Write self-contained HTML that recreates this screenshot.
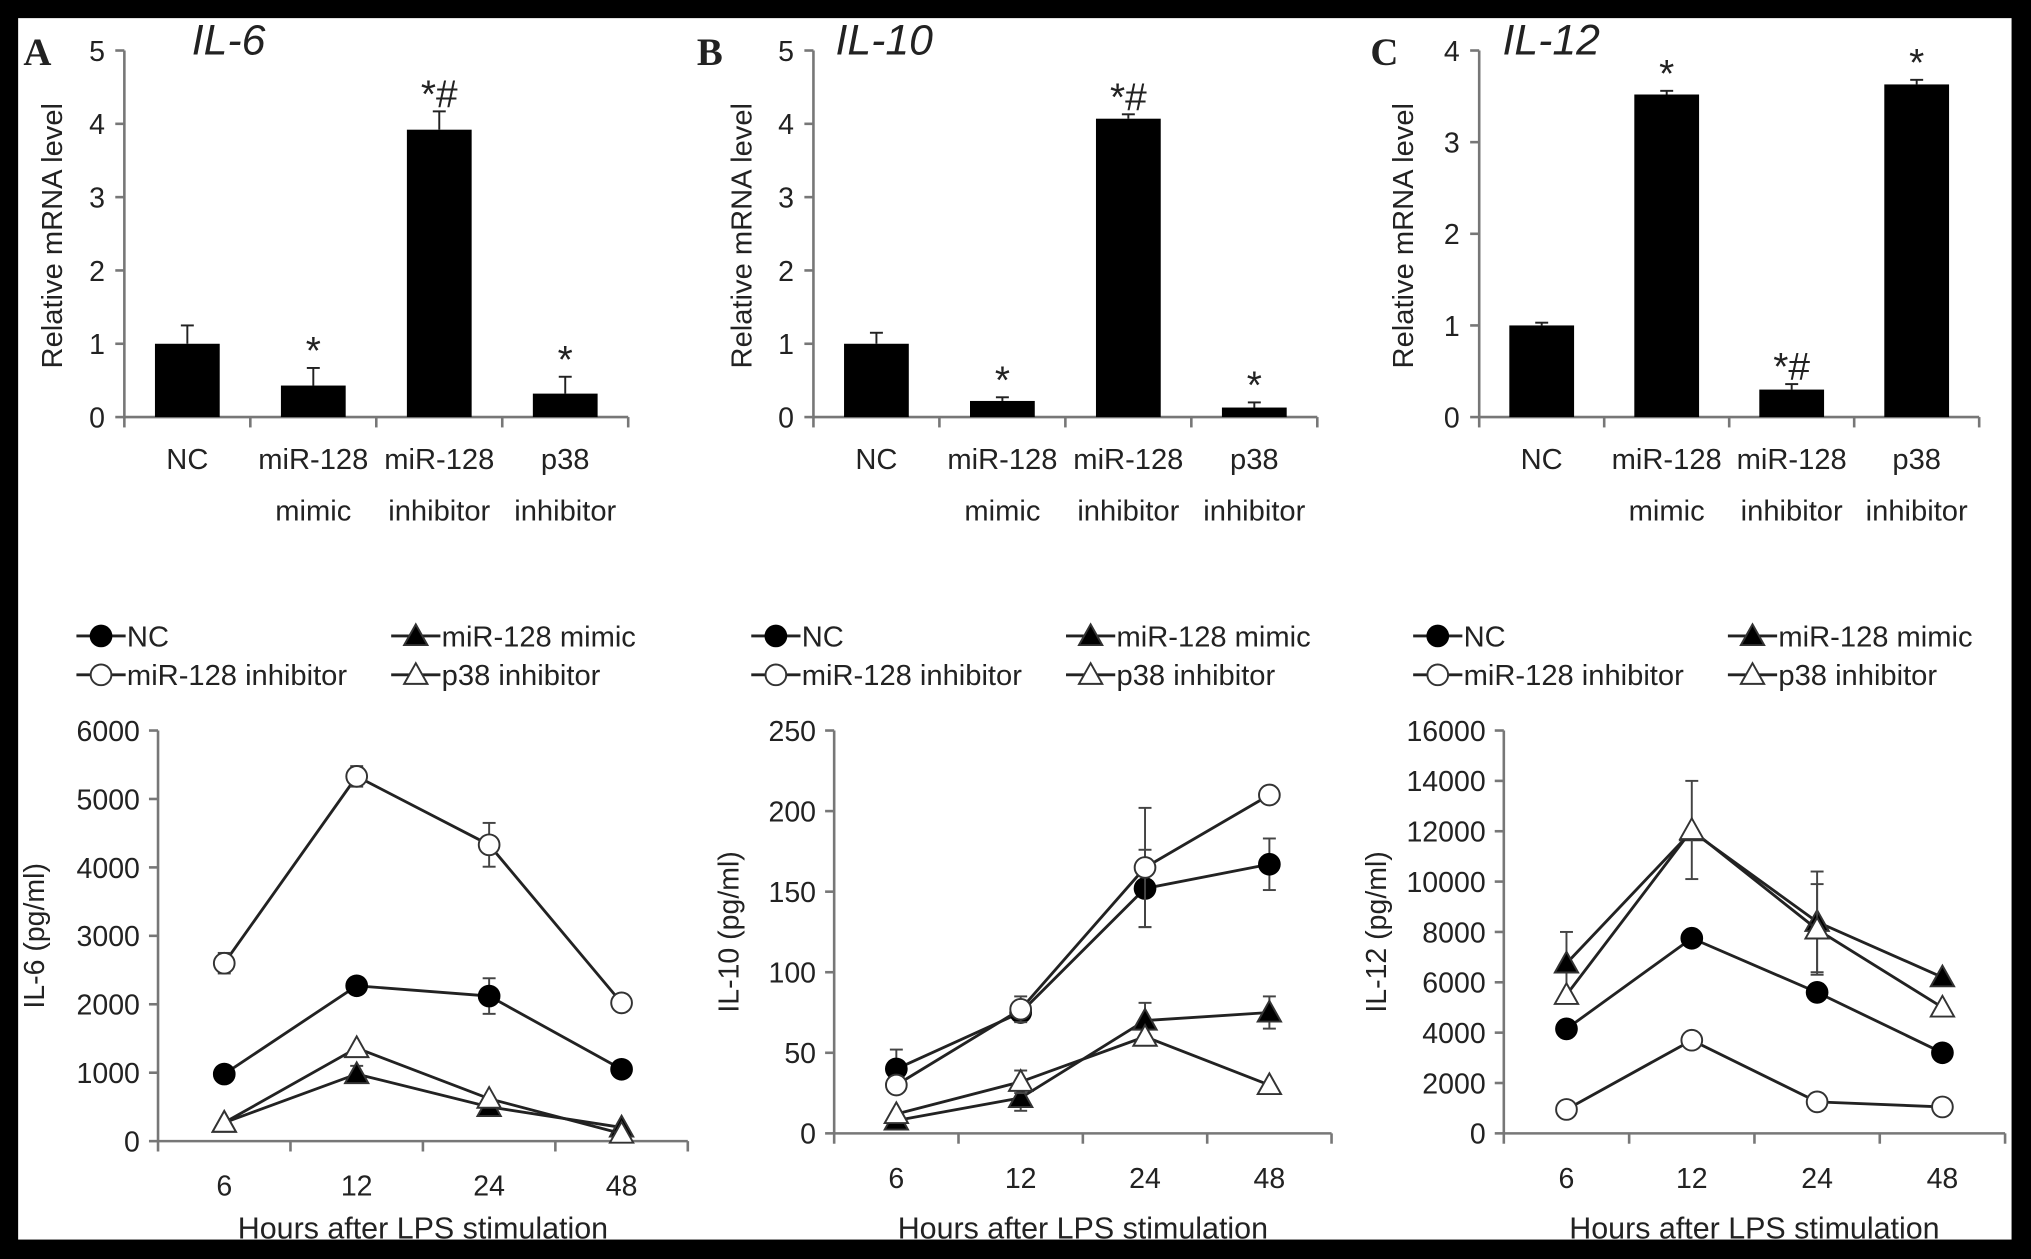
<!DOCTYPE html>
<html><head><meta charset="utf-8"><style>
html,body{margin:0;padding:0;background:#000;}
svg{display:block;}
text{font-family:"Liberation Sans",sans-serif;fill:#222;}
</style></head><body>
<svg id="fig" width="2031" height="1259" viewBox="0 0 1568 972" xmlns="http://www.w3.org/2000/svg">
<rect x="0" y="0" width="1568" height="972" fill="#000"/>
<rect x="14" y="14" width="1539" height="943" fill="#fff"/>
</svg>
<script>
const barCats=[["NC",""],["miR-128","mimic"],["miR-128","inhibitor"],["p38","inhibitor"]];
const il6Bars=[1.0,0.43,3.92,0.32];
const il6BarErr=[0.25,0.24,0.25,0.23];
const il6BarSig=["","*","*#","*"];
const il10Bars=[1.0,0.22,4.07,0.13];
const il10BarErr=[0.15,0.05,0.06,0.07];
const il10BarSig=["","*","*#","*"];
const il12Bars=[1.0,3.52,0.3,3.63];
const il12BarErr=[0.03,0.04,0.06,0.05];
const il12BarSig=["","*","*#","*"];
const hours=["6","12","24","48"];
const seriesNames=["NC","miR-128 mimic","miR-128 inhibitor","p38 inhibitor"];
const il6NC=[980,2270,2120,1050], il6NCErr=[0,0,260,0];
const il6Mimic=[270,980,500,200], il6MimicErr=[0,120,0,0];
const il6Inh=[2600,5330,4330,2020], il6InhErr=[150,150,320,0];
const il6P38=[270,1360,620,110], il6P38Err=[0,0,0,0];
const il10NC=[40,75,152,167], il10NCErr=[12,0,24,16];
const il10Mimic=[8,22,70,75], il10MimicErr=[0,8,11,10];
const il10Inh=[30,77,165,210], il10InhErr=[0,8,37,0];
const il10P38=[12,32,60,30], il10P38Err=[0,7,0,0];
const il12NC=[4150,7750,5600,3200], il12NCErr=[0,0,0,0];
const il12Mimic=[6750,12000,8400,6200], il12MimicErr=[1250,0,2000,0];
const il12Inh=[950,3700,1250,1050], il12InhErr=[0,0,0,0];
const il12P38=[5500,12050,8100,5000], il12P38Err=[0,1950,1800,0];
const il6Ticks=[0,1,2,3,4,5], il10Ticks=[0,1,2,3,4,5], il12Ticks=[0,1,2,3,4];
const d6Ticks=[0,1000,2000,3000,4000,5000,6000];
const d10Ticks=[0,50,100,150,200,250];
const d12Ticks=[0,2000,4000,6000,8000,10000,12000,14000,16000];

const svg=document.getElementById('fig');
const NS="http://www.w3.org/2000/svg";
function el(tag,attrs,parent){const e=document.createElementNS(NS,tag);for(const k in attrs)e.setAttribute(k,attrs[k]);(parent||svg).appendChild(e);return e;}
function txt(s,attrs,parent){const t=el('text',attrs,parent);t.textContent=s;return t;}
const AX="#777";

function barPanel(o){
  const g=el('g',{});
  
  
  const x0=o.x,y0=322,yTop=39,w=o.w,max=o.ticks[o.ticks.length-1];
  const ys=v=>y0-(v/max)*(y0-yTop);
  const bw=w/barCats.length;
  const ax=el('line',{x1:x0,y1:y0,x2:x0,y2:yTop,stroke:AX,'stroke-width':2},g);
  
  o.ticks.forEach(t=>{el('line',{x1:x0-7,x2:x0,y1:ys(t),y2:ys(t),stroke:AX,'stroke-width':2},g);
    const tl=txt(String(t),{x:x0-15,y:ys(t)+8,'font-size':22,'text-anchor':'end'},g);
    });
  const xa=el('line',{x1:x0,y1:y0,x2:x0+w,y2:y0,stroke:AX,'stroke-width':2},g);
  
  for(let i=0;i<=barCats.length;i++)el('line',{x1:x0+i*bw,x2:x0+i*bw,y1:y0,y2:y0+8,stroke:AX,'stroke-width':2},g);
  o.vals.forEach((v,i)=>{
    const cx=x0+(i+0.5)*bw;
    const b=el('rect',{x:cx-25,y:ys(v),width:50,height:y0-ys(v),fill:'#000'},g);
    
    const te=ys(v+o.err[i]);
    el('line',{x1:cx,x2:cx,y1:ys(v),y2:te,stroke:'#222','stroke-width':1.5},g);
    el('line',{x1:cx-5,x2:cx+5,y1:te,y2:te,stroke:'#222','stroke-width':1.5},g);
    if(o.sig[i]){const s=txt(o.sig[i],{x:cx,y:te-3,'font-size':30,'text-anchor':'middle'},g);
      }
    const l1=txt(barCats[i][0],{x:cx,y:362,'font-size':22.5,'text-anchor':'middle'},g);
    
    if(barCats[i][1]){const l2=txt(barCats[i][1],{x:cx,y:402,'font-size':22.5,'text-anchor':'middle'},g);
      }
  });
  const yt=txt('Relative mRNA level',{x:0,y:0,'font-size':22.5,'text-anchor':'middle',transform:`translate(${o.yl},182) rotate(-90)`},g);
  
  const ti=txt(o.title,{x:o.tx,y:42,'font-size':33,'font-style':'italic'},g);
  
  const lt=txt(o.letter,{x:o.lx,y:50,'font-size':30,'font-weight':'bold',style:'font-family:"Liberation Serif",serif'},g);
  
}
barPanel({name:'il6-bar-chart',x:96,w:389,vals:il6Bars,err:il6BarErr,sig:il6BarSig,ticks:il6Ticks,yl:48,title:'IL-6',tx:148,letter:'A',lx:18});
barPanel({name:'il10-bar-chart',x:628,w:389,vals:il10Bars,err:il10BarErr,sig:il10BarSig,ticks:il10Ticks,yl:580,title:'IL-10',tx:645,letter:'B',lx:538});
barPanel({name:'il12-bar-chart',x:1142,w:386,vals:il12Bars,err:il12BarErr,sig:il12BarSig,ticks:il12Ticks,yl:1091,title:'IL-12',tx:1160,letter:'C',lx:1058});

function marker(type,cx,cy,g){
  let m;
  if(type==0)m=el('circle',{cx,cy,r:8,fill:'#000',stroke:'#000','stroke-width':1.5},g);
  else if(type==2)m=el('circle',{cx,cy,r:8,fill:'#fff',stroke:'#333','stroke-width':1.5},g);
  else m=el('polygon',{points:`${cx},${cy-9} ${cx+9},${cy+7} ${cx-9},${cy+7}`,fill:type==1?'#000':'#fff',stroke:'#333','stroke-width':1.5},g);
  return m;
}
function linePanel(o){
  const g=el('g',{});
  
  
  const x0=o.x,y0=o.y0,yTop=564,w=o.w,max=o.ticks[o.ticks.length-1];
  const ys=v=>y0-(v/max)*(y0-yTop);
  const step=w/hours.length;const xs=i=>x0+(i+0.5)*step;
  const ax=el('line',{x1:x0,y1:y0,x2:x0,y2:yTop,stroke:AX,'stroke-width':2},g);
  
  o.ticks.forEach(t=>{el('line',{x1:x0-7,x2:x0,y1:ys(t),y2:ys(t),stroke:AX,'stroke-width':2},g);
    const tl=txt(String(t),{x:x0-14,y:ys(t)+8,'font-size':22,'text-anchor':'end'},g);
    });
  const xa=el('line',{x1:x0,y1:y0,x2:x0+w,y2:y0,stroke:AX,'stroke-width':2},g);
  
  for(let i=0;i<=hours.length;i++)el('line',{x1:x0+i*step,x2:x0+i*step,y1:y0,y2:y0+8,stroke:AX,'stroke-width':2},g);
  hours.forEach((h,i)=>{const t=txt(h,{x:xs(i),y:y0+42,'font-size':22,'text-anchor':'middle'},g);
    });
  const xt=txt('Hours after LPS stimulation',{x:x0+w/2,y:956,'font-size':23.5,'text-anchor':'middle'},g);
  
  const yt=txt(o.ytitle,{x:0,y:0,'font-size':22,'text-anchor':'middle',transform:`translate(${o.yl},${(y0+yTop)/2}) rotate(-90)`},g);
  
  o.series.forEach((s,k)=>{
    const sg=el('g',{},g);
    
    
    const pts=s.map((v,i)=>xs(i)+','+ys(v)).join(' ');
    el('polyline',{points:pts,fill:'none',stroke:'#222','stroke-width':2.2},sg);
    s.forEach((v,i)=>{const e=o.errs[k][i];if(e>0){
      el('line',{x1:xs(i),x2:xs(i),y1:ys(v-e),y2:ys(v+e),stroke:'#444','stroke-width':1.5},sg);
      el('line',{x1:xs(i)-5,x2:xs(i)+5,y1:ys(v+e),y2:ys(v+e),stroke:'#444','stroke-width':1.5},sg);
      el('line',{x1:xs(i)-5,x2:xs(i)+5,y1:ys(v-e),y2:ys(v-e),stroke:'#444','stroke-width':1.5},sg);}});
    s.forEach((v,i)=>{const m=marker(k,xs(i),ys(v),sg);
      });
  });
  const lx=[o.lx,o.lx,o.lx+243,o.lx+243], order=[0,2,1,3], ly=[491,521,491,521];
  order.forEach((k,j)=>{
    const lg=el('g',{},g);
    
    
    const x=lx[j],y=ly[j];
    el('line',{x1:x,x2:x+38,y1:y,y2:y,stroke:'#222','stroke-width':2.2},lg);
    marker(k,x+19,y,lg);
    txt(seriesNames[k],{x:x+39,y:y+8,'font-size':22.5},lg);
  });
}
linePanel({name:'il6-line-chart',x:122,y0:881,w:409,ticks:d6Ticks,ytitle:'IL-6 (pg/ml)',yl:34,lx:59,
  series:[il6NC,il6Mimic,il6Inh,il6P38],errs:[il6NCErr,il6MimicErr,il6InhErr,il6P38Err]});
linePanel({name:'il10-line-chart',x:644,y0:875,w:384,ticks:d10Ticks,ytitle:'IL-10 (pg/ml)',yl:570,lx:580,
  series:[il10NC,il10Mimic,il10Inh,il10P38],errs:[il10NCErr,il10MimicErr,il10InhErr,il10P38Err]});
linePanel({name:'il12-line-chart',x:1161,y0:875,w:387,ticks:d12Ticks,ytitle:'IL-12 (pg/ml)',yl:1070,lx:1091,
  series:[il12NC,il12Mimic,il12Inh,il12P38],errs:[il12NCErr,il12MimicErr,il12InhErr,il12P38Err]});
</script>
</body></html>
